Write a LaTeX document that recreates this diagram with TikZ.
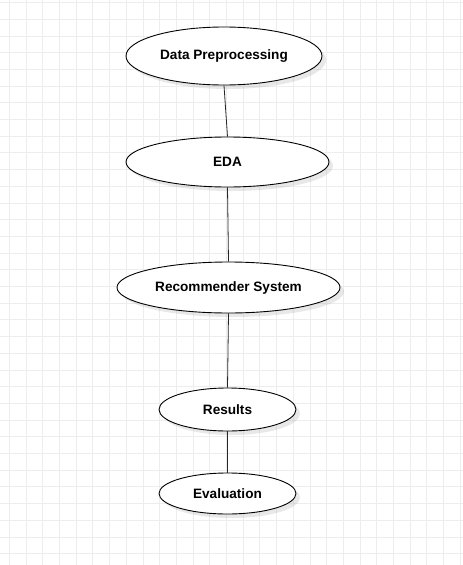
\documentclass[tikz,border=0pt]{standalone}
\usepackage{fontspec}
\setmainfont{Liberation Sans}
\usetikzlibrary{shapes.geometric,shadows}
\begin{document}
\begin{tikzpicture}[x=1pt,y=-1pt,
  stage/.style={ellipse,draw,fill=white,line width=0.9pt,inner sep=0pt,
    font=\fontsize{13.6}{16}\selectfont\bfseries,
    drop shadow={opacity=0.18,shadow xshift=4pt,shadow yshift=-4pt}},
  link/.style={line width=0.8pt,draw=black!85}]
\useasboundingbox(0,0)rectangle(463,565);
%grid
\fill[white](0,0)rectangle(463,565);
\foreach \i in {0,...,27}
  \draw[black!7,line width=0.8pt](9.3+16.7*\i,0)--(9.3+16.7*\i,565);
\foreach \j in {0,...,33}
  \draw[black!7,line width=0.8pt](0,2.5+16.7*\j)--(463,2.5+16.7*\j);
%stages
\node[stage,minimum width=196pt,minimum height=58pt](prep)at(224,56){Data Preprocessing};
\node[stage,minimum width=203pt,minimum height=50pt](eda)at(227.5,162){EDA};
\node[stage,minimum width=223pt,minimum height=51pt](recsys)at(228.5,287.5){Recommender System};
\node[stage,minimum width=137pt,minimum height=43pt](results)at(227.5,409.5){Results};
\node[stage,minimum width=137pt,minimum height=41pt](eval)at(227.5,493.5){Evaluation};
%links
\draw[link](prep.south)--(eda.north);
\draw[link](eda.south)--(recsys.north);
\draw[link](recsys.south)--(results.north);
\draw[link](results.south)--(eval.north);
\end{tikzpicture}
\end{document}
